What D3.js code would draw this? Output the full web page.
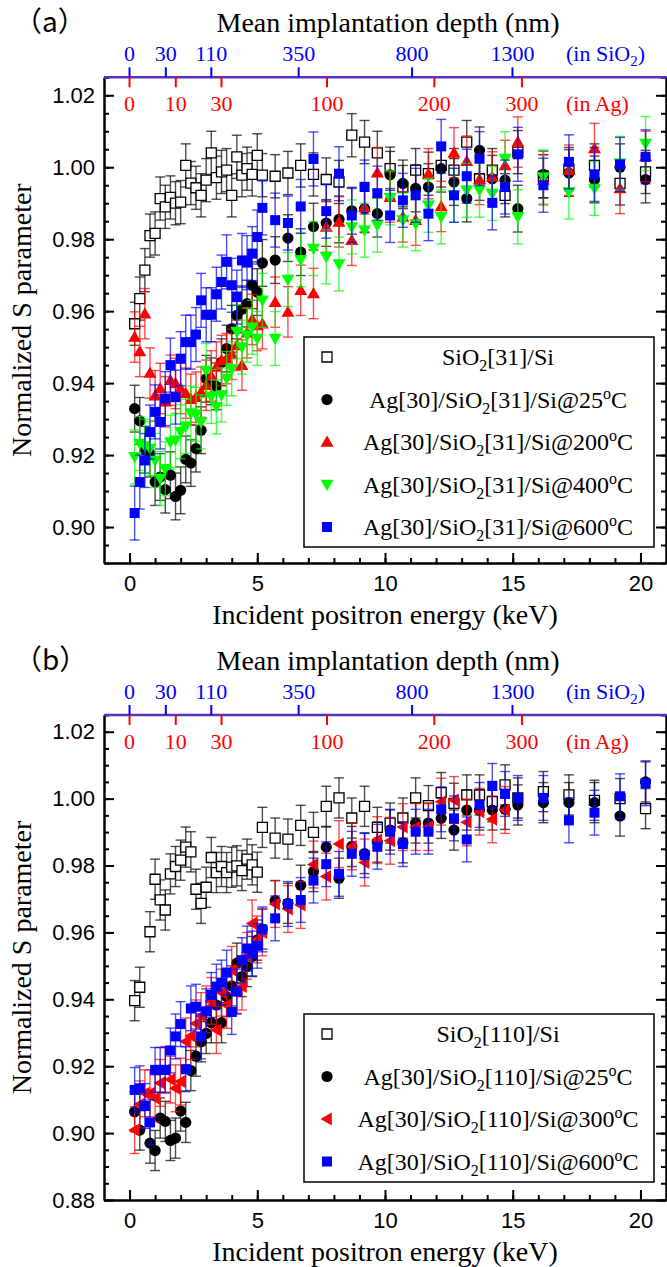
<!DOCTYPE html>
<html>
<head>
<meta charset="utf-8">
<script src="https://cdn.jsdelivr.net/npm/d3@7"></script>
<style>
body { margin: 0; background: #fff; }
svg { display: block; }
</style>
</head>
<body>
<svg id="chart" width="667" height="1267"></svg>
<script>
// incident energies (keV), same grid in both panels
const energyKeV = [0.2, 0.4, 0.6, 0.8, 1.0, 1.2, 1.4, 1.6, 1.8, 2.0, 2.2, 2.4, 2.6, 2.8, 3.0, 3.2, 3.4, 3.6, 3.8, 4.0,
  4.2, 4.4, 4.6, 4.8, 5.0, 5.2, 5.7, 6.2, 6.7, 7.2, 7.7, 8.2, 8.7, 9.2, 9.7, 10.2, 10.7, 11.2, 11.7, 12.2,
  12.7, 13.2, 13.7, 14.2, 14.7, 15.2, 16.2, 17.2, 18.2, 19.2, 20.2];

// panel (a)
const sio2_31 = [0.9565, 0.9635, 0.9714, 0.981, 0.9816, 0.9913, 0.989, 0.9916, 0.990, 0.9903, 1.0005, 0.9956, 0.9943, 0.9922, 0.9964, 1.004, 0.9971, 0.9987, 0.9992, 0.9922,
  1.0029, 0.9978, 0.9996, 0.998, 1.0033, 0.9978, 0.9975, 0.9984, 1.0005, 0.998, 0.9966, 0.9959, 1.0089, 1.007, 1.004, 0.9996, 0.9945, 0.9992, 0.9982, 1.0005,
  0.9992, 1.007, 0.9968, 0.9992, 0.9922, 1.0042, 0.9975, 0.9995, 1.0005, 0.9955, 0.9987];
const ag31_25 = [0.9329, 0.9295, 0.9215, 0.9204, 0.9125, 0.9139, 0.9104, 0.9144, 0.9085, 0.9102, 0.9188, 0.9178, 0.9218, 0.9269, 0.9412, 0.9405, 0.9391, 0.9458, 0.9496, 0.9551,
  0.9588, 0.9605, 0.9621, 0.9672, 0.9653, 0.9734, 0.9742, 0.9803, 0.9764, 0.9835, 0.9845, 0.9855, 0.9879, 0.9885, 0.9871, 0.9979, 0.9955, 0.9941, 0.9945, 0.9996,
  0.9959, 0.9913, 1.0047, 0.9968, 0.9964, 0.9885, 0.998, 0.9984, 0.9966, 1.0, 0.9966];
const ag31_200 = [0.9528, 0.9488, 0.9593, 0.9428, 0.9365, 0.9385, 0.9348, 0.9408, 0.9399, 0.9385, 0.9372, 0.9355, 0.9361, 0.9375, 0.9394, 0.942, 0.9445, 0.9463, 0.9468, 0.948,
  0.9505, 0.945, 0.954, 0.9577, 0.956, 0.9565, 0.9625, 0.9598, 0.9658, 0.9649, 0.9834, 0.9848, 0.9797, 0.9888, 0.9985, 0.9917, 0.9862, 0.9853, 0.9982, 0.9891,
  1.004, 1.0017, 0.9966, 0.9973, 1.0005, 1.007, 0.9965, 0.9992, 1.0052, 0.9941, 1.003];
const ag31_400 = [0.9195, 0.9232, 0.9225, 0.9218, 0.9185, 0.9135, 0.9162, 0.9236, 0.9241, 0.9265, 0.928, 0.9317, 0.9313, 0.9292, 0.9435, 0.9363, 0.9334, 0.9367, 0.9413, 0.944,
  0.9543, 0.95, 0.9533, 0.9555, 0.9524, 0.963, 0.9524, 0.9688, 0.9743, 0.9774, 0.9751, 0.9731, 0.9834, 0.9825, 0.9839, 0.9915, 0.9853, 0.9843, 0.9894, 0.9862,
  0.9922, 0.9936, 0.9936, 0.9927, 1.0024, 0.9862, 0.9973, 0.9931, 0.9941, 1.0011, 1.0066];
const ag31_600 = [0.9039, 0.9125, 0.9185, 0.9264, 0.932, 0.9292, 0.9357, 0.945, 0.9361, 0.9468, 0.9514, 0.9514, 0.9535, 0.963, 0.959, 0.959, 0.9647, 0.9681, 0.9737, 0.9672,
  0.9639, 0.9741, 0.9735, 0.976, 0.9806, 0.9887, 0.9853, 0.9845, 0.9891, 1.0023, 0.9878, 0.9982, 0.9866, 0.9945, 0.9928, 0.9866, 0.9908, 0.9922, 0.9871, 1.0058,
  0.9922, 0.9975, 1.0024, 0.9901, 0.9945, 1.0036, 0.995, 1.0015, 0.998, 1.0008, 1.0029];

// panel (b)
const sio2_110 = [0.9396, 0.9436, null, 0.9602, 0.9759, 0.9697, 0.9667, 0.9775, 0.9797, 0.9816, 0.9855, 0.9841, 0.9729, 0.9687, 0.9735, 0.9824, 0.9779, 0.9797, 0.9779, 0.9795,
  0.9799, 0.9785, 0.9819, 0.9802, 0.978, 0.9914, 0.9882, 0.9879, 0.992, 0.9899, 0.9977, 1.0002, 0.9942, 0.9977, 0.9914, 0.9927, 0.9942, 1.0002, 0.9979, 1.0018,
  0.9986, 1.0011, 1.0011, 0.9991, 1.0041, 1.0002, 1.0021, 1.0011, 0.9995, 1.0, 0.997];
const ag110_25 = [0.9064, 0.9009, null, 0.897, 0.8948, 0.9045, 0.9035, 0.8978, 0.8985, 0.9066, 0.9032, 0.9187, 0.923, 0.9273, 0.9298, 0.933, 0.9383, 0.933, 0.9408, 0.944,
  0.9508, 0.9468, 0.9498, 0.9528, 0.9577, 0.961, 0.9695, 0.9687, 0.9741, 0.9782, 0.9855, 0.9762, 0.9857, 0.9836, 0.987, 0.9906, 0.9868, 0.9927, 0.9927, 0.9941,
  0.9906, 0.9966, 0.9966, 0.9966, 0.9968, 0.9981, 0.9988, 0.9988, 0.9988, 0.9948, 1.005];
const ag110_300 = [0.9009, 0.9086, 0.9119, 0.9119, 0.9104, 0.915, 0.9189, 0.916, 0.9134, 0.9154, 0.9274, 0.929, 0.9328, 0.935, 0.937, 0.9395, 0.9308, 0.942, 0.9383, 0.9488,
  0.9428, 0.9438, 0.953, 0.9627, 0.9579, 0.96, 0.9685, 0.967, 0.9682, 0.9803, 0.9767, 0.9864, 0.9857, 0.9809, 0.9876, 0.9874, 0.9915, 0.9915, 0.9915, 0.9991,
  0.9996, 0.9929, 0.9961, 0.9938, 0.9966, null, null, null, null, null, null];
const ag110_600 = [0.9129, 0.9134, 0.9081, 0.9032, 0.9189, 0.9189, 0.9189, 0.9247, 0.9289, 0.9326, 0.9191, 0.9373, 0.9378, 0.9289, 0.9364, 0.9413, 0.9438, 0.945, 0.948, 0.9362,
  0.9423, 0.9517, 0.9552, 0.9537, 0.956, 0.9609, 0.9642, 0.9685, 0.9697, 0.9755, 0.9804, 0.9775, 0.9835, 0.9831, 0.9856, 0.9901, 0.9864, 0.9901, 0.9901, 0.9968,
  0.9941, 0.9878, 0.9981, 1.0038, 1.0014, 1.0002, 1.0002, 0.9935, 0.9958, 1.0007, 1.0046];

// typical error bar half-widths
const errA = [0.006, 0.0065, 0.007, 0.0075, 0.0075];
const errB = [0.006, 0.006, 0.007, 0.0067];

// top axis: mean implantation depth
const sio2DepthLabels = ["0", "30", "110", "350", "800", "1300"];
const sio2DepthEnergy = [0, 1.42, 3.2, 6.62, 11.06, 14.99];
const agDepthLabels = ["0", "10", "30", "100", "200", "300"];
const agDepthEnergy = [0, 1.81, 3.6, 7.73, 11.93, 15.36];

const yTicksA = [0.90, 0.92, 0.94, 0.96, 0.98, 1.00, 1.02];
const yTicksB = [0.88, 0.90, 0.92, 0.94, 0.96, 0.98, 1.00, 1.02];
const xTicks = [0, 5, 10, 15, 20];

const SERIF = "'Liberation Serif','Times New Roman',serif";
const SANS = "'Liberation Sans',Arial,sans-serif";
const PURPLE = "#5a2fc2";

const svg = d3.select("#chart");
const x = d3.scaleLinear().domain([-1, 21]).range([104, 666]);

const shapes = {
  square: "M-5,-5H5V5H-5Z",
  circle: d3.symbol(d3.symbolCircle, Math.PI * 5.6 * 5.6)(),
  up: "M0,-6.5L6.5,4.8L-6.5,4.8Z",
  down: "M0,6.5L6.5,-4.8L-6.5,-4.8Z",
  left: "M-6.5,0L4.8,-6.5L4.8,6.5Z"
};

function drawPanel(p) {
  const g = svg.append("g");
  const y = d3.scaleLinear().domain(p.yDomain).range([p.bottom, p.top]);

  // error bars and markers
  p.series.forEach(function(s, k) {
    const pts = energyKeV.map((e, i) => ({ e: e, v: s.values[i] })).filter(d => d.v != null);
    const sg = g.append("g");
    const eb = sg.selectAll("g.eb").data(pts).enter().append("g")
      .attr("stroke", s.color).attr("stroke-opacity", 0.7).attr("stroke-width", 1.4);
    eb.append("line")
      .attr("x1", d => x(d.e)).attr("x2", d => x(d.e))
      .attr("y1", d => y(d.v - p.err[k])).attr("y2", d => y(d.v + p.err[k]));
    [-1, 1].forEach(function(sign) {
      eb.append("line")
        .attr("x1", d => x(d.e) - 5).attr("x2", d => x(d.e) + 5)
        .attr("y1", d => y(d.v + sign * p.err[k])).attr("y2", d => y(d.v + sign * p.err[k]));
    });
    sg.selectAll("path").data(pts).enter().append("path")
      .attr("d", shapes[s.shape])
      .attr("transform", d => `translate(${x(d.e)},${y(d.v)})`)
      .attr("fill", s.open ? "#fff" : s.color)
      .attr("stroke", s.open ? "#000" : "none")
      .attr("stroke-width", 1.3);
  });

  // left axis
  g.append("g").attr("transform", `translate(${x.range()[0]},0)`)
    .call(d3.axisLeft(y).tickValues(p.yTicks).tickFormat(d3.format(".2f")).tickSize(-10).tickSizeOuter(0).tickPadding(9));
  g.append("g").attr("transform", `translate(${x.range()[0]},0)`)
    .call(d3.axisLeft(y).tickValues(d3.range(p.yDomain[0], p.yDomain[1] + 1e-9, 0.005)).tickFormat("").tickSize(-5).tickSizeOuter(0));
  // right axis
  g.append("g").attr("transform", `translate(${x.range()[1]},0)`)
    .call(d3.axisRight(y).tickValues(p.yTicks).tickFormat("").tickSize(-10).tickSizeOuter(0));
  g.append("g").attr("transform", `translate(${x.range()[1]},0)`)
    .call(d3.axisRight(y).tickValues(d3.range(p.yDomain[0], p.yDomain[1] + 1e-9, 0.005)).tickFormat("").tickSize(-5).tickSizeOuter(0));
  // bottom axis
  g.append("g").attr("transform", `translate(0,${p.bottom})`)
    .call(d3.axisBottom(x).tickValues(xTicks).tickSize(-10).tickSizeOuter(0).tickPadding(12));
  g.append("g").attr("transform", `translate(0,${p.bottom})`)
    .call(d3.axisBottom(x).tickValues(d3.range(0, 21, 1)).tickFormat("").tickSize(-5).tickSizeOuter(0));

  g.selectAll(".domain").attr("stroke", "#000").attr("stroke-width", 2);
  g.selectAll(".tick line").attr("stroke", "#000").attr("stroke-width", 2);
  g.selectAll(".tick text").attr("font-family", SANS).attr("font-size", 22).attr("fill", "#000");

  // top depth axis
  g.append("line").attr("x1", x.range()[0]).attr("x2", x.range()[1] + 1)
    .attr("y1", p.top).attr("y2", p.top).attr("stroke", PURPLE).attr("stroke-width", 2.5);
  g.selectAll("line.sio2").data(sio2DepthEnergy).enter().append("line")
    .attr("x1", d => x(d)).attr("x2", d => x(d))
    .attr("y1", p.top).attr("y2", p.top - 10).attr("stroke", "#0000ff").attr("stroke-width", 2);
  g.selectAll("text.sio2").data(sio2DepthEnergy).enter().append("text")
    .attr("x", d => x(d)).attr("y", p.top - 16).attr("text-anchor", "middle")
    .attr("font-family", SERIF).attr("font-size", 22).attr("fill", "#0000ff")
    .text((d, i) => sio2DepthLabels[i]);
  g.selectAll("line.ag").data(agDepthEnergy).enter().append("line")
    .attr("x1", d => x(d)).attr("x2", d => x(d))
    .attr("y1", p.top).attr("y2", p.top + 10).attr("stroke", "#ff0000").attr("stroke-width", 2);
  g.selectAll("text.ag").data(agDepthEnergy).enter().append("text")
    .attr("x", d => x(d)).attr("y", p.top + 34).attr("text-anchor", "middle")
    .attr("font-family", SERIF).attr("font-size", 22).attr("fill", "#ff0000")
    .text((d, i) => agDepthLabels[i]);
  const inSio2 = g.append("text").attr("x", 566).attr("y", p.top - 16)
    .attr("font-family", SERIF).attr("font-size", 22).attr("fill", "#0000ff");
  inSio2.append("tspan").text("(in SiO");
  inSio2.append("tspan").attr("font-size", 15).attr("dy", 5).text("2");
  inSio2.append("tspan").attr("dy", -5).text(")");
  g.append("text").attr("x", 566).attr("y", p.top + 34)
    .attr("font-family", SERIF).attr("font-size", 22).attr("fill", "#ff0000").text("(in Ag)");

  // titles
  g.append("text").attr("x", 14).attr("y", p.top - 45)
    .attr("font-family", "'Noto Sans CJK SC',sans-serif").attr("font-size", 28).text(p.tag);
  g.append("text").attr("x", 388).attr("y", p.top - 45).attr("text-anchor", "middle")
    .attr("font-family", SERIF).attr("font-size", 28).text("Mean implantation depth (nm)");
  g.append("text").attr("x", 385).attr("y", p.bottom + 61).attr("text-anchor", "middle")
    .attr("font-family", SERIF).attr("font-size", 28).text("Incident positron energy (keV)");
  g.append("text").attr("transform", `translate(31,${(p.top + p.bottom) / 2}) rotate(-90)`)
    .attr("text-anchor", "middle").attr("font-family", SERIF).attr("font-size", 28)
    .text("Normalized S parameter");

  // legend
  const lg = g.append("g");
  lg.append("rect").attr("x", 304).attr("y", p.legendTop).attr("width", 350)
    .attr("height", p.legendHeight).attr("fill", "#fff").attr("stroke", "#000").attr("stroke-width", 1.5);
  p.series.forEach(function(s, k) {
    const ly = p.legendTop + 20 + k * 42.5;
    lg.append("path").attr("d", shapes[s.shape]).attr("transform", `translate(327,${ly})`)
      .attr("fill", s.open ? "#fff" : s.color).attr("stroke", s.open ? "#000" : "none").attr("stroke-width", 1.3);
    const t = lg.append("text").attr("x", 498).attr("y", ly + 8).attr("text-anchor", "middle")
      .attr("font-family", SERIF).attr("font-size", 24);
    s.label.forEach(function(part) {
      const ts = t.append("tspan").text(part[0]);
      if (part[1] === "sub") ts.attr("font-size", 16).attr("dy", 6);
      if (part[1] === "sup") ts.attr("font-size", 16).attr("dy", -9);
      if (part[1] === "back") ts.attr("dy", part[2]);
    });
  });
}

function agLabel(thick, temp) {
  return [["Ag[30]/SiO"], ["2", "sub"], ["[" + thick + "]/Si@" + temp, "back", -6], ["o", "sup"], ["C", "back", 9]];
}

drawPanel({
  tag: "（a）", top: 77.3, bottom: 563, yDomain: [0.89, 1.025], yTicks: yTicksA,
  legendTop: 337, legendHeight: 210, err: errA,
  series: [
    { values: sio2_31, color: "#000", shape: "square", open: true, label: [["SiO"], ["2", "sub"], ["[31]/Si", "back", -6]] },
    { values: ag31_25, color: "#000000", shape: "circle", label: agLabel("31", "25") },
    { values: ag31_200, color: "#ff0000", shape: "up", label: agLabel("31", "200") },
    { values: ag31_400, color: "#00ff00", shape: "down", label: agLabel("31", "400") },
    { values: ag31_600, color: "#0000ff", shape: "square", label: agLabel("31", "600") }
  ]
});

drawPanel({
  tag: "（b）", top: 715, bottom: 1200, yDomain: [0.88, 1.025], yTicks: yTicksB,
  legendTop: 1014, legendHeight: 168, err: errB,
  series: [
    { values: sio2_110, color: "#000", shape: "square", open: true, label: [["SiO"], ["2", "sub"], ["[110]/Si", "back", -6]] },
    { values: ag110_25, color: "#000000", shape: "circle", label: agLabel("110", "25") },
    { values: ag110_300, color: "#ff0000", shape: "left", label: agLabel("110", "300") },
    { values: ag110_600, color: "#0000ff", shape: "square", label: agLabel("110", "600") }
  ]
});
</script>
</body>
</html>
